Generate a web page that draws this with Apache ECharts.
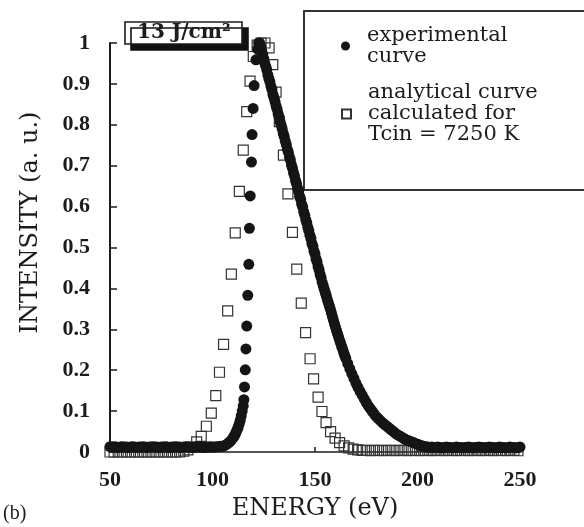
<!DOCTYPE html>
<html>
<head>
<meta charset="utf-8">
<script src="https://cdn.jsdelivr.net/npm/echarts@6/dist/echarts.min.js"></script>
<style>
html,body{margin:0;padding:0;background:#fff;}
#chart{width:584px;height:527px;}
</style>
</head>
<body>
<div id="chart"></div>
<script>
// ---- Data ----
var xTickLabels = [50, 100, 150, 200, 250];
var yTickLabels = [0, 0.1, 0.2, 0.3, 0.4, 0.5, 0.6, 0.7, 0.8, 0.9, 1];

var expName = 'experimental curve';
var anaName = 'analytical curve calculated for Tcin = 7250 K';

// experimental curve (filled circles)
var expEnergy = [
  50,51,52,53,54,55,56,57,58,59,
  60,61,62,63,64,65,66,67,68,69,
  70,71,72,73,74,75,76,77,78,79,
  80,81,82,83,84,85,86,87,88,89,
  90,91,92,93,94,95,96,97,98,99,
  100,101,102,103,104,
  105,106,107,108,109,110,110.5,111,111.5,112,112.5,113,113.5,114,114.5,115,115.3,115.6,116,116.3,116.7,117.2,117.7,118,118.4,119,119.3,119.8,120.3,121.2,122,122.5,123,
  123.5,124,124.5,125,125.5,126,126.5,127,127.5,128,128.5,129,129.5,130,130.5,131,131.5,132,132.5,133,133.5,134,134.5,135,135.5,136,136.5,137,137.5,138,138.5,139,139.5,140,140.5,141,141.5,142,142.5,143,143.5,144,144.5,145,145.5,146,146.5,147,147.5,148,148.5,149,149.5,150,150.5,151,151.5,152,152.5,153,153.5,154,
  154.5,155,155.5,156,156.5,157,157.5,158,158.5,159,159.5,160,160.5,161,161.5,162,162.5,163,163.5,164,164.5,165,
  166,167,168,169,170,171,172,173,174,175,
  176,177,178,179,180,181,182,183,184,185,
  186,187,188,189,190,191,192,193,194,195,
  196,197,198,199,200,201,202,203,204,205,
  206,207,208,209,210,211,212,213,214,215,
  216,217,218,219,220,221,222,223,224,225,
  226,227,228,229,230,231,232,233,234,235,
  236,237,238,239,240,241,242,243,244,245,
  246,247,248,249,250
];
var expIntensity = [
  0.013,0.012,0.013,0.012,0.011,0.012,0.013,0.012,0.012,0.011,
  0.012,0.013,0.012,0.011,0.012,0.012,0.013,0.012,0.011,0.012,
  0.012,0.013,0.012,0.012,0.011,0.012,0.012,0.013,0.012,0.011,
  0.012,0.012,0.013,0.012,0.012,0.011,0.012,0.013,0.012,0.012,
  0.011,0.012,0.012,0.013,0.012,0.012,0.011,0.012,0.012,0.013,
  0.012,0.012,0.013,0.013,0.014,
  0.014,0.016,0.019,0.023,0.028,0.034,0.038,0.043,0.048,0.054,0.060,0.068,0.077,0.088,0.100,0.113,0.128,0.159,0.201,0.252,0.308,0.383,0.459,0.547,0.626,0.709,0.776,0.840,0.896,0.959,0.985,1.000,1.000,
  0.992,0.981,0.972,0.962,0.951,0.943,0.934,0.922,0.913,0.905,0.894,0.886,0.874,0.866,0.857,0.846,0.838,0.827,0.819,0.807,0.799,0.790,0.779,0.771,0.760,0.752,0.740,0.733,0.721,0.714,0.702,0.694,0.683,0.675,0.664,0.656,0.645,0.637,0.625,0.618,0.606,0.599,0.587,0.579,0.568,0.560,0.549,0.541,0.530,0.522,0.510,0.503,0.491,0.484,0.472,0.465,0.453,0.445,0.434,0.426,0.415,0.407,
  0.398,0.390,0.382,0.373,0.365,0.357,0.349,0.340,0.331,0.322,0.313,0.305,0.297,0.289,0.281,0.273,0.266,0.258,0.251,0.243,0.236,0.229,
  0.216,0.203,0.191,0.180,0.168,0.158,0.148,0.139,0.130,0.121,
  0.113,0.106,0.099,0.092,0.086,0.081,0.076,0.071,0.067,0.063,
  0.059,0.055,0.051,0.047,0.043,0.040,0.037,0.034,0.031,0.029,
  0.027,0.025,0.023,0.021,0.019,0.017,0.015,0.014,0.013,0.012,
  0.011,0.012,0.011,0.011,0.012,0.011,0.010,0.011,0.012,0.011,
  0.011,0.010,0.011,0.012,0.011,0.011,0.010,0.011,0.011,0.012,
  0.011,0.010,0.011,0.011,0.012,0.011,0.011,0.010,0.011,0.012,
  0.011,0.011,0.010,0.011,0.012,0.011,0.011,0.010,0.011,0.012,
  0.011,0.011,0.010,0.011,0.012
];

// analytical curve (open squares)
var anaEnergy = [
  50,52,54,56,58,60,62,64,66,68,70,72,74,76,78,80,82,84,86,88,
  90,92.3,94.5,97,99.4,101.6,103.4,105.4,107.4,109.2,111.1,113.1,115,116.7,118.3,119.9,121.8,123.7,125.6,127.6,
  129.4,131,132.6,134.6,136.8,139,141.1,143.3,145.4,147.6,149.3,151.5,153.4,155.4,157.6,159.8,162,164.2,166.4,168.6,
  170.8,173,175,177,179,181,183,185,187,189,191,193,195,197,199,201,203,205,207,209,
  211,213,215,217,219,221,223,225,227,229,231,233,235,237,239,241,243,245,247,249
];
var anaIntensity = [
  0,0,0,0,0,0,0,0,0,0,0,0,0,0,0,0,0,0,0.002,0.005,
  0.012,0.025,0.038,0.063,0.095,0.138,0.195,0.263,0.345,0.435,0.536,0.637,0.738,0.832,0.907,0.967,0.995,1.000,1.000,0.988,
  0.947,0.880,0.808,0.726,0.631,0.537,0.447,0.364,0.292,0.228,0.179,0.134,0.099,0.072,0.050,0.034,0.023,0.015,0.010,0.007,
  0.005,0.004,0.004,0.003,0.004,0.004,0.003,0.004,0.004,0.003,0.004,0.004,0.003,0.004,0.004,0.003,0.004,0.004,0.003,0.004,
  0.004,0.003,0.004,0.004,0.003,0.004,0.004,0.003,0.004,0.004,0.003,0.004,0.004,0.003,0.004,0.004,0.003,0.004,0.004,0.003
];

function pairs(xs, ys) {
  var out = [];
  for (var i = 0; i < xs.length; i++) out.push([xs[i], ys[i]]);
  return out;
}

var INK = '#1c1c1c';
var chart = echarts.init(document.getElementById('chart'), null, {renderer: 'canvas'});
var LH = 21;
var option = {
  animation: false,
  backgroundColor: '#fff',
  title: [{
    text: '13 J/cm\u00b2',
    left: 125, top: 22,
    padding: [1, 12, 1, 12],
    backgroundColor: '#fff',
    borderColor: INK, borderWidth: 1.6,
    shadowColor: '#111', shadowBlur: 0, shadowOffsetX: 6, shadowOffsetY: 6,
    textStyle: {fontFamily: 'DejaVu Serif', fontWeight: 'bold', fontSize: 20, lineHeight: 20, color: INK}
  }, {
    text: '(b)',
    left: 3, top: 504,
    padding: 0,
    textStyle: {fontFamily: 'Liberation Serif', fontWeight: 'normal', fontSize: 20, color: INK}
  }],
  graphic: [{
    type: 'rect', z: 1, silent: true,
    shape: {x: 304, y: 11, width: 320, height: 179},
    style: {fill: 'none', stroke: '#333', lineWidth: 2}
  }],
  legend: [{
    data: [{name: expName, textStyle: {padding: [LH, 0, 0, 12]}}],
    left: 341, top: 14.5, padding: 0,
    itemWidth: 9, itemHeight: 9,
    selectedMode: false,
    formatter: function () { return 'experimental\ncurve'; },
    textStyle: {fontFamily: 'DejaVu Serif', fontSize: 21, lineHeight: LH, color: INK}
  }, {
    data: [{name: anaName, textStyle: {padding: [2 * LH, 0, 0, 12]}}],
    left: 341, top: 61.5, padding: 0,
    itemWidth: 9, itemHeight: 9,
    selectedMode: false,
    formatter: function () { return 'analytical curve\ncalculated for\nTcin = 7250 K'; },
    textStyle: {fontFamily: 'DejaVu Serif', fontSize: 21, lineHeight: LH, color: INK}
  }],
  grid: {left: 110, right: 64, top: 43, bottom: 75, containLabel: false},
  xAxis: {
    type: 'value', min: xTickLabels[0], max: xTickLabels[xTickLabels.length - 1], interval: 50,
    name: 'ENERGY (eV)', nameLocation: 'middle', nameGap: 45,
    nameTextStyle: {fontFamily: 'DejaVu Serif', fontSize: 24, color: INK},
    axisLine: {show: true, onZero: false, lineStyle: {color: INK, width: 1.5}},
    axisTick: {show: true, inside: true, length: 5, lineStyle: {color: INK, width: 1.5}},
    axisLabel: {fontFamily: 'Liberation Serif', fontWeight: 'bold', fontSize: 22, color: INK, margin: 17},
    splitLine: {show: false}
  },
  yAxis: {
    type: 'value', min: yTickLabels[0], max: yTickLabels[yTickLabels.length - 1], interval: 0.1,
    name: 'INTENSITY (a. u.)', nameLocation: 'middle', nameGap: 67,
    nameTextStyle: {fontFamily: 'DejaVu Serif', fontSize: 24, color: INK, padding: [0, 0, 0, 50]},
    axisLine: {show: true, onZero: false, lineStyle: {color: INK, width: 2}},
    axisTick: {show: true, inside: true, length: 7, lineStyle: {color: INK, width: 1.5}},
    axisLabel: {fontFamily: 'Liberation Serif', fontWeight: 'bold', fontSize: 22, color: INK, margin: 20},
    splitLine: {show: false}
  },
  series: [{
    name: anaName,
    type: 'scatter',
    symbol: 'rect',
    symbolSize: 10,
    clip: false,
    silent: true,
    z: 2,
    itemStyle: {color: 'rgba(0,0,0,0)', borderColor: '#333', borderWidth: 1.2, opacity: 1},
    data: pairs(anaEnergy, anaIntensity)
  }, {
    name: expName,
    type: 'scatter',
    symbol: 'circle',
    symbolSize: 11,
    clip: false,
    silent: true,
    z: 3,
    itemStyle: {color: '#151515', opacity: 1},
    data: pairs(expEnergy, expIntensity)
  }]
};
chart.setOption(option);
</script>
</body>
</html>
